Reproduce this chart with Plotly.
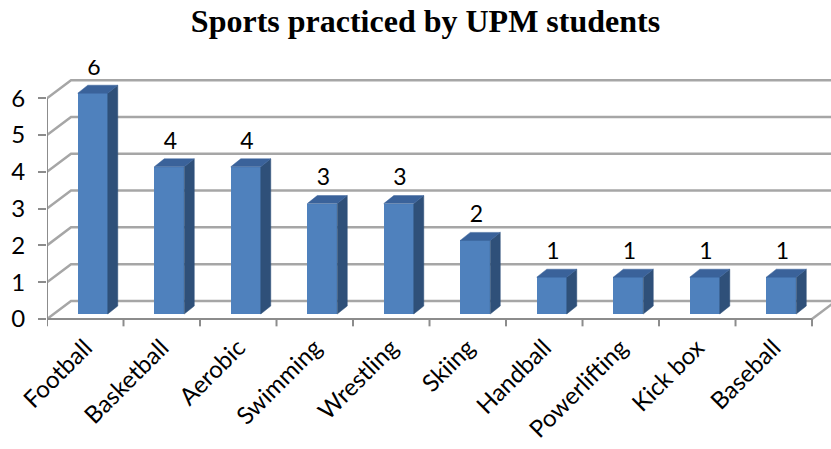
import plotly.graph_objects as go

categories = ["Football", "Basketball", "Aerobic", "Swimming", "Wrestling",
              "Skiing", "Handball", "Powerlifting", "Kick box", "Baseball"]
values = [6, 4, 4, 3, 3, 2, 1, 1, 1, 1]
y_ticks = [0, 1, 2, 3, 4, 5, 6]
title = "Sports practiced by UPM students"

# 3D projection parameters (axis units)
WDX, WDY = 0.314, 0.49     # wall depth offset
BOX, BOY = 0.098, 0.136    # bar front-face offset
BDX, BDY = 0.131, 0.217    # bar depth
BW = 0.392                 # bar width

FRONT = "#4F81BD"
SIDE = "#2F5079"
TOP = "#3A629A"
GRID = "#A6A6A6"
AXIS = "#8C8C8C"

n = len(categories)
xs = list(range(n))
ymax = max(y_ticks)
fig = go.Figure()

shapes = []
# back wall gridlines + left wall diagonals
for k in y_ticks:
    shapes.append(dict(type="path", xref="x", yref="y", layer="below",
                       path=f"M {-0.5},{k} L {-0.5 + WDX},{k + WDY} L {n + 1},{k + WDY}",
                       line=dict(color=GRID, width=2.5)))
# floor right diagonal
shapes.append(dict(type="line", xref="x", yref="y", layer="below",
                   x0=n - 0.5, y0=0, x1=n - 0.5 + WDX, y1=WDY,
                   line=dict(color=GRID, width=2.5)))
# front axes
shapes.append(dict(type="path", xref="x", yref="y", layer="below",
                   path=f"M {-0.5},{ymax} L {-0.5},0 L {n - 0.5},0",
                   line=dict(color=AXIS, width=2)))
for b in range(n + 1):
    shapes.append(dict(type="line", xref="x", yref="y", layer="below",
                       x0=b - 0.5, y0=0, x1=b - 0.5, y1=-0.2,
                       line=dict(color=AXIS, width=2)))

# bars: front face
fig.add_trace(go.Bar(x=[i + BOX for i in xs], y=values, base=BOY, width=BW,
                     marker=dict(color=FRONT, line=dict(width=0)), showlegend=False,
                     hoverinfo="skip"))
# side and top faces
for i, v in zip(xs, values):
    x0 = i + BOX - BW / 2
    x1 = i + BOX + BW / 2
    y0 = BOY
    y1 = BOY + v
    fig.add_trace(go.Scatter(x=[x1, x1 + BDX, x1 + BDX, x1, x1],
                             y=[y0, y0 + BDY, y1 + BDY, y1, y0],
                             fill="toself", fillcolor=SIDE, mode="lines",
                             line=dict(color=SIDE, width=0.5), hoverinfo="skip", showlegend=False))
    fig.add_trace(go.Scatter(x=[x0, x1, x1 + BDX, x0 + BDX, x0],
                             y=[y1, y1, y1 + BDY, y1 + BDY, y1],
                             fill="toself", fillcolor=TOP, mode="lines",
                             line=dict(color=TOP, width=0.5), hoverinfo="skip", showlegend=False))

# value labels
fig.add_trace(go.Scatter(x=[i + BOX + BDX / 2 - 0.05 for i in xs],
                         y=[v + BOY + BDY + 0.12 for v in values],
                         mode="text", text=[str(v) for v in values],
                         textposition="top center",
                         textfont=dict(family="Lato", size=23, color="#000"),
                         hoverinfo="skip", showlegend=False))

fig.update_layout(
    width=831, height=449,
    margin=dict(l=47, r=0, t=60, b=121),
    paper_bgcolor="white", plot_bgcolor="white",
    shapes=shapes,
    title=dict(text="<b>" + title + "</b>", x=0.5 + 10 / 831, xanchor="center",
               y=1 - 21 / 449, yanchor="middle",
               font=dict(family="Liberation Serif", size=32, color="black")),
    xaxis=dict(range=[-0.5, 9.748], tickmode="array", tickvals=xs, ticktext=categories,
               tickangle=-45, showgrid=False, zeroline=False, showline=False, ticks="",
               tickfont=dict(family="Lato", size=24, color="#000"), fixedrange=True),
    yaxis=dict(range=[-0.245, 7.038], tickmode="array", tickvals=y_ticks,
               showgrid=False, zeroline=False, showline=False, ticks="outside",
               ticklen=8, tickcolor=AXIS, tickwidth=2, ticklabelstandoff=8,
               tickfont=dict(family="Lato", size=24, color="#000"), fixedrange=True),
    bargap=0,
)

fig.write_html("out.html", config={"displayModeBar": False},
               post_script="document.body.style.margin='0';document.body.style.overflow='hidden';")
